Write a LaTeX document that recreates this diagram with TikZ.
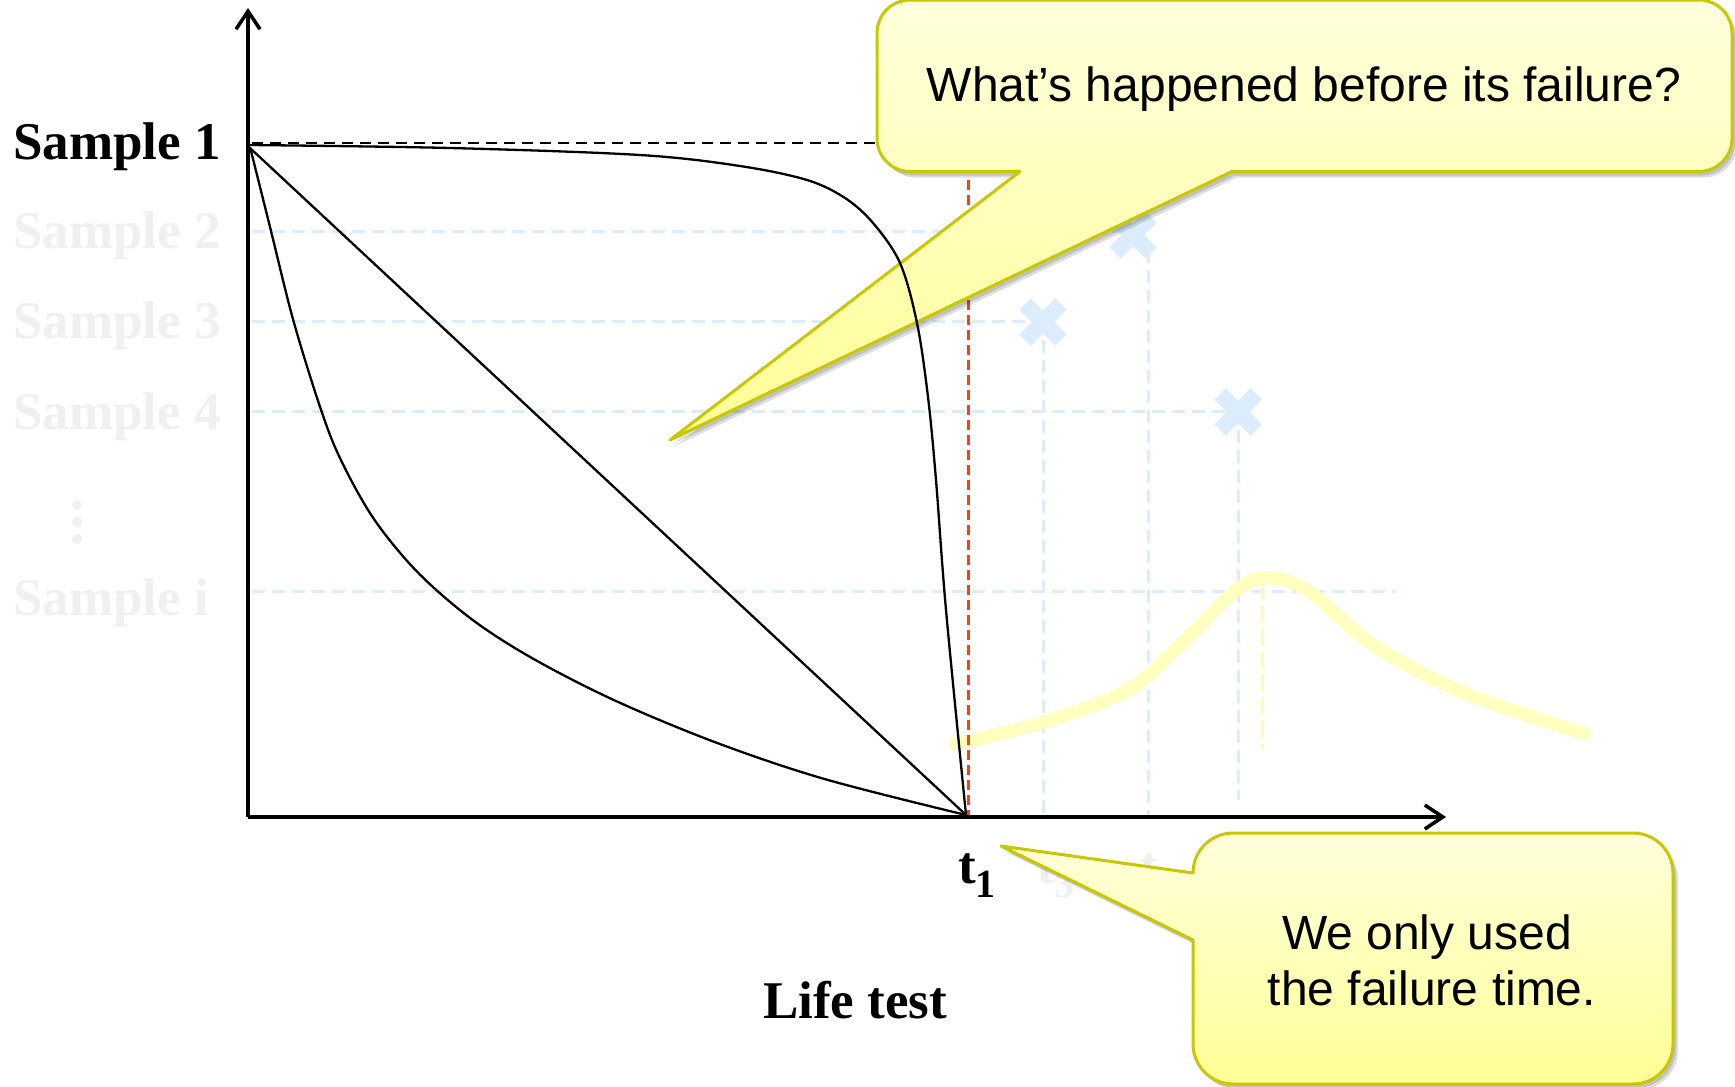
\documentclass[tikz,border=0pt]{standalone}
\usepackage{fontspec}
\setmainfont{Liberation Serif}
\newfontfamily\calloutfont{Liberation Sans}
\usetikzlibrary{arrows.meta}
\definecolor{lblue}{RGB}{219,237,252}
\definecolor{fgray}{RGB}{240,240,240}
\definecolor{cborder}{RGB}{200,200,0}
\definecolor{ctop}{RGB}{255,255,220}
\definecolor{cbot}{RGB}{255,255,150}
\definecolor{fyellow}{RGB}{255,255,192}
\definecolor{ydash}{RGB}{255,255,165}
\definecolor{rdash}{RGB}{255,64,16}
\newcommand\calloutApath{(1232,171.5) -- (1699,171.5) arc[start angle=90,end angle=0,radius=33] -- (1732,33) arc[start angle=0,end angle=-90,radius=33] -- (910,0) arc[start angle=-90,end angle=-180,radius=33] -- (877,138.5) arc[start angle=180,end angle=90,radius=33] -- (1020,171.5) -- (670,440) -- cycle}
\newcommand\calloutBpath{(1193,873) arc[start angle=180,end angle=270,radius=40] -- (1633,833) arc[start angle=-90,end angle=0,radius=40] -- (1673,1044) arc[start angle=0,end angle=90,radius=40] -- (1233,1084) arc[start angle=90,end angle=180,radius=40] -- (1193,940) -- (1001,846) -- cycle}
\begin{document}
\begin{tikzpicture}[x=1pt,y=-1pt,
  bluedash/.style={draw=lblue, line width=3pt, dash pattern=on 13pt off 7pt},
  xmark/.style={draw=lblue, line width=16pt},
  curve/.style={draw=black, line width=2.3pt},
  axisline/.style={draw=black, line width=3.6pt, -{Straight Barb[length=18pt,width=24pt]}},
  biglabel/.style={anchor=base west, inner sep=0pt, font=\fontsize{53}{60}\selectfont\bfseries},
  calltext/.style={anchor=base, inner sep=0pt, font=\calloutfont\fontsize{48}{56}\selectfont},
  callbox/.style={top color=ctop, bottom color=cbot, draw=cborder, line width=3pt, line join=round},
  callshadow/.style={fill=black, opacity=0.13}]
\useasboundingbox (0,0) rectangle (1735,1087);
\fill[white] (0,0) rectangle (1735,1087);

% coordinates
\coordinate (O) at (248,817);
\coordinate (yend) at (248,8);
\coordinate (xend) at (1446,817);
\coordinate (S) at (250,148);
\coordinate (T1) at (966,815);

% sample labels
\node[biglabel] (s1) at (13,159) {Sample 1};
\node[biglabel, text=fgray] (s2) at (13,248) {Sample 2};
\node[biglabel, text=fgray] (s3) at (13,338) {Sample 3};
\node[biglabel, text=fgray] (s4) at (13,429) {Sample 4};
\node[biglabel, text=fgray] (si) at (13,615) {Sample i};
\fill[fgray] (77,505) circle[radius=5] (77,522) circle[radius=5] (77,539) circle[radius=5];

% faint t labels
\node[biglabel, text=fgray] (t3) at (1037,883) {t\raisebox{-14pt}{\fontsize{40}{44}\selectfont 3}};
\node[biglabel, text=fgray] (t2) at (1140,883) {t};

% light blue dashed guides
\coordinate (h2a) at (252,231.7); \coordinate (h2b) at (1120,231.7);
\coordinate (h3a) at (252,321.7); \coordinate (h3b) at (1030,321.7);
\coordinate (h4a) at (252,411.7); \coordinate (h4b) at (1225,411.7);
\coordinate (hia) at (252,591.7); \coordinate (hib) at (1396,591.7);
\draw[bluedash] (h2a) -- (h2b);
\draw[bluedash] (h3a) -- (h3b);
\draw[bluedash] (h4a) -- (h4b);
\draw[bluedash] (hia) -- (hib);
\coordinate (v3a) at (1043,340); \coordinate (v3b) at (1043,815);
\coordinate (v2a) at (1148,250); \coordinate (v2b) at (1148,815);
\coordinate (v4a) at (1238,430); \coordinate (v4b) at (1238,800);
\draw[bluedash] (v3a) -- (v3b);
\draw[bluedash] (v2a) -- (v2b);
\draw[bluedash] (v4a) -- (v4b);
% X marks
\draw[xmark] (1043,322) ++(-18,-18) -- ++(36,36) ++(0,-36) -- ++(-36,36);
\draw[xmark] (1133,235) ++(-18,-18) -- ++(36,36) ++(0,-36) -- ++(-36,36);
\draw[xmark] (1238,412) ++(-18,-18) -- ++(36,36) ++(0,-36) -- ++(-36,36);

% faint yellow density curve
\draw[fyellow, line width=13pt] plot[smooth, tension=0.55] coordinates {(950,745) (1041,723) (1128,690) (1182,643) (1240,587) (1274,578) (1311,593) (1373,645) (1464,693) (1589,735)};
\coordinate (ya) at (1262,583); \coordinate (yb) at (1262,750);
\draw[ydash, line width=3pt, dash pattern=on 16pt off 7pt] (ya) -- (yb);

% red dashed at t1
\coordinate (ra) at (968,180);
\draw[rdash, line width=3pt, dash pattern=on 10pt off 5pt] (ra) -- (T1 -| ra);

% sample 1 dashed
\coordinate (d1a) at (252,143); \coordinate (d1b) at (880,143);
\draw[black, line width=2.3pt, dash pattern=on 11pt off 7pt] (d1a) -- (d1b);

% callouts
\fill[callshadow, shift={(3,4)}] \calloutApath;
\fill[callshadow, shift={(5,6)}] \calloutApath;
\shadedraw[callbox] \calloutApath;
\fill[callshadow, shift={(3,4)}] \calloutBpath;
\fill[callshadow, shift={(5,6)}] \calloutBpath;
\shadedraw[callbox] \calloutBpath;
\node[calltext] (q1) at (1304,101) {What’s happened before its failure?};
\node[calltext] (q2a) at (1427,949) {We only used};
\node[calltext] (q2b) at (1432,1005) {the failure time.};

% black curves
\draw[curve] (S) -- (T1);
\draw[curve] plot[smooth, tension=0.55] coordinates {(250,147) (271,231) (293.5,321) (321.4,411) (341.4,461) (373.9,519) (417.4,572) (471.4,619) (531.9,658) (613.8,700) (714.6,742) (824.5,779) (966,815)};
\draw[curve] plot[smooth, tension=0.55] coordinates {(250,145) (450,148) (640,155) (740,166) (807,180) (845,198) (873,223) (900,263) (917,323) (928,397) (936,480) (946,610) (966,815)};

% axes
\draw[axisline] (O) -- (yend);
\draw[axisline] (O) -- (xend);

% labels
\node[biglabel] (t1) at (958,883) {t\raisebox{-14pt}{\fontsize{40}{44}\selectfont 1}};
\node[biglabel] (life) at (763,1018) {Life test};
\end{tikzpicture}
\end{document}
